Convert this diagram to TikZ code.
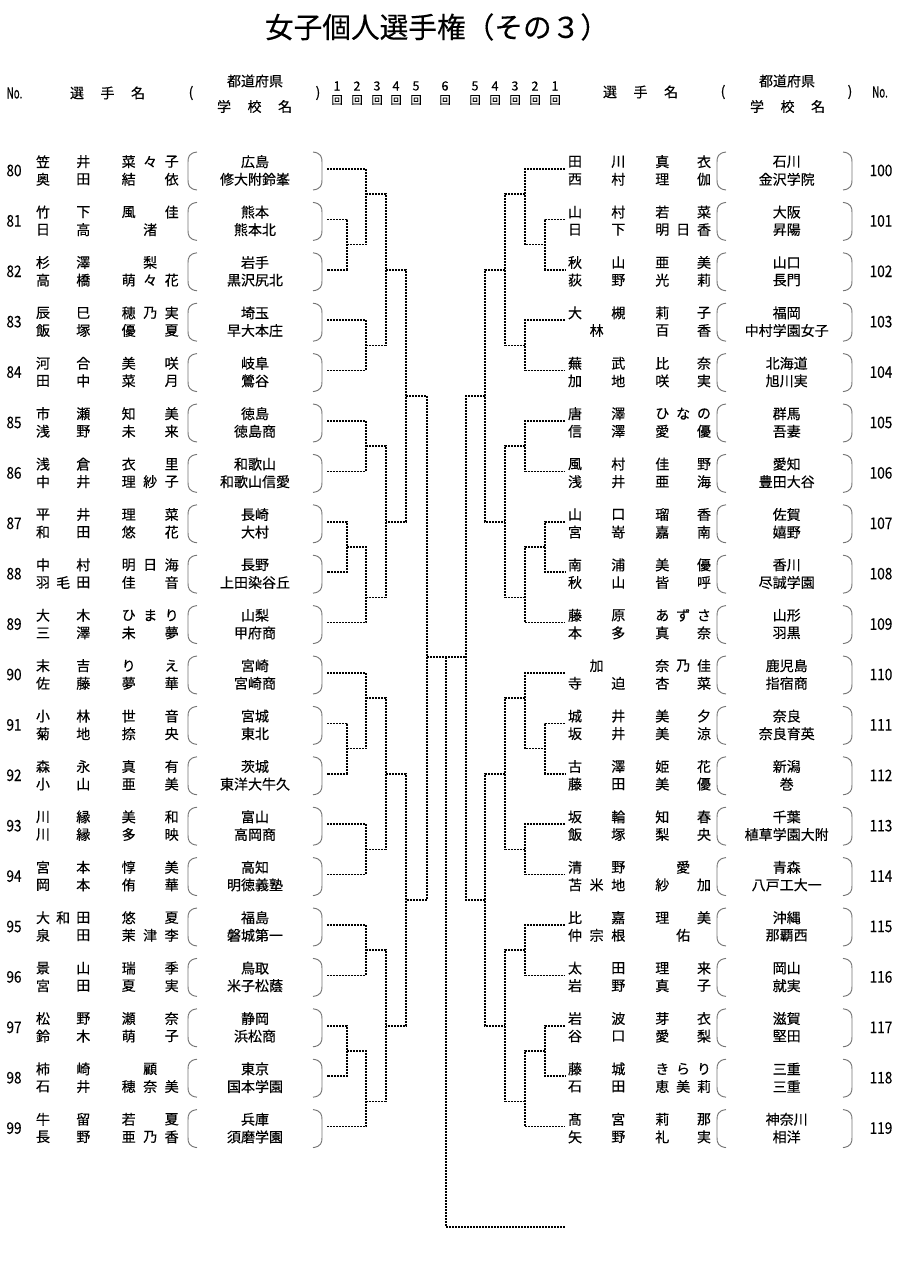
\documentclass[tikz,border=0pt]{standalone}
\usepackage{fontspec}
\setmainfont{Noto Sans CJK JP}[FakeBold=0.3]
\usetikzlibrary{positioning}

\newcounter{nchar}
% spread the characters of a list evenly from one x to another
\newcommand\spreadchars[5]{%
  \setcounter{nchar}{0}%
  \foreach \chr in {#5}{\stepcounter{nchar}}%
  \edef\nchars{\arabic{nchar}}%
  \ifnum\nchars=1
    \node[nm] (#1-0) at ({(#2+#3)/2},#4) {#5};%
  \else
    \foreach \chr [count=\i from 0] in {#5}
      \node[nm] (#1-\i) at ({#2+(#3-#2)*\i/(\nchars-1)},#4) {\chr};%
  \fi}

\newcommand\setleft{\def\xno{14}\def\xsa{43}\def\xsb{83.3}\def\xga{128.7}\def\xgb{171.7}%
  \def\xpl{188}\def\xsc{255}\def\xpr{322}}
\newcommand\setright{\def\xno{881}\def\xsa{575}\def\xsb{618.3}\def\xga{662.3}\def\xgb{704}%
  \def\xpl{717}\def\xsc{786.7}\def\xpr{852}}

% #1 row, #2 no., #3/#4 first player, #5/#6 second player, #7 prefecture, #8 school
\newcommand\playerrow[8]{%
  \pgfmathsetmacro\by{170.5+50.4*#1}%
  \pgfmathsetmacro\ya{\by-8.8}%
  \pgfmathsetmacro\yb{\by+8.8}%
  \pgfmathsetmacro\ytop{\by-18.5}%
  \pgfmathsetmacro\ybot{\by+19.5}%
  \node[num] (no#2) at (\xno,\by) {#2};
  \spreadchars{sa#2}{\xsa}{\xsb}{\ya}{#3}
  \spreadchars{ga#2}{\xga}{\xgb}{\ya}{#4}
  \spreadchars{sb#2}{\xsa}{\xsb}{\yb}{#5}
  \spreadchars{gb#2}{\xga}{\xgb}{\yb}{#6}
  \node[nm] (pref#2) at (\xsc,\ya) {#7};
  \node[nm] (sch#2) at (\xsc,\yb) {#8};
  \draw[paren] ({\xpl+9},\ytop) .. controls ({\xpl+1},{\ytop+1}) and (\xpl,{\ytop+5}) .. (\xpl,{\ytop+10})
    -- (\xpl,{\ybot-10}) .. controls (\xpl,{\ybot-5}) and ({\xpl+1},{\ybot-1}) .. ({\xpl+9},\ybot);
  \draw[paren] ({\xpr-9},\ytop) .. controls ({\xpr-1},{\ytop+1}) and (\xpr,{\ytop+5}) .. (\xpr,{\ytop+10})
    -- (\xpr,{\ybot-10}) .. controls (\xpr,{\ybot-5}) and ({\xpr-1},{\ybot-1}) .. ({\xpr-9},\ybot);
}

\begin{document}
\begin{tikzpicture}[x=0.75pt, y=-0.75pt,
  nm/.style={inner sep=0pt, font=\fontsize{10.5}{12}\selectfont},
  num/.style={inner sep=0pt, font=\fontsize{12}{13}\selectfont, xscale=0.85},
  hd/.style={inner sep=0pt, font=\fontsize{10.5}{12}\selectfont},
  rnd/.style={inner sep=0pt, font=\fontsize{9.5}{10}\selectfont},
  kai/.style={inner sep=0pt, font=\fontsize{8.5}{10}\selectfont},
  bk/.style={line width=1.3pt, dash pattern=on 1.5pt off 0.75pt},
  paren/.style={draw=black!55, line width=0.7pt}]
	\useasboundingbox (0,0) rectangle (910,1266);

	\node[inner sep=0pt, font=\fontsize{21.5}{24}\selectfont] (title) at (437,27) {女子個人選手権（その３）};

	% header, left
	\node[num, font=\fontsize{11.5}{12}\selectfont, xscale=0.75] (noL) at (14.5,93) {No.};
	\node[hd] (selL) at (77,93) {選};
	\node[hd, right=12pt of selL] (teL) {手};
	\node[hd, right=12pt of teL] (meiL) {名};
	\node[hd] (opL) at (191,93) {(};
	\node[hd] (prefL) at (255,81) {都道府県};
	\node[hd] (gakuL) at (224,106.5) {学};
	\node[hd, right=12pt of gakuL] (kouL) {校};
	\node[hd, right=12pt of kouL] (namL) {名};
	\node[hd] (clL) at (318,93) {)};
	% header, right
	\node[hd] (selR) at (610,92) {選};
	\node[hd, right=12pt of selR] (teR) {手};
	\node[hd, right=12pt of teR] (meiR) {名};
	\node[hd] (opR) at (723,92) {(};
	\node[hd] (prefR) at (787,81) {都道府県};
	\node[hd] (gakuR) at (757,106.5) {学};
	\node[hd, right=12pt of gakuR] (kouR) {校};
	\node[hd, right=12pt of kouR] (namR) {名};
	\node[hd] (clR) at (850,92) {)};
	\node[num, font=\fontsize{11.5}{12}\selectfont, xscale=0.75] (noR) at (880,92) {No.};
	% rounds
	\foreach \x/\r [count=\n] in {337/1, 357/2, 377/3, 396/4, 416/5, 445/6, 475/5, 495/4, 515/3, 535/2, 555/1} {
		\node[rnd] (rd\n) at (\x,86) {\r};
		\node[kai] (kai\n) at (\x,100) {回};
	}

	% players
	\setleft
	\playerrow{0}{80}{笠,井}{菜,々,子}{奥,田}{結,依}{広島}{修大附鈴峯}
	\playerrow{1}{81}{竹,下}{風,佳}{日,高}{渚}{熊本}{熊本北}
	\playerrow{2}{82}{杉,澤}{梨}{高,橋}{萌,々,花}{岩手}{黒沢尻北}
	\playerrow{3}{83}{辰,巳}{穂,乃,実}{飯,塚}{優,夏}{埼玉}{早大本庄}
	\playerrow{4}{84}{河,合}{美,咲}{田,中}{菜,月}{岐阜}{鶯谷}
	\playerrow{5}{85}{市,瀬}{知,美}{浅,野}{未,来}{徳島}{徳島商}
	\playerrow{6}{86}{浅,倉}{衣,里}{中,井}{理,紗,子}{和歌山}{和歌山信愛}
	\playerrow{7}{87}{平,井}{理,菜}{和,田}{悠,花}{長崎}{大村}
	\playerrow{8}{88}{中,村}{明,日,海}{羽,毛,田}{佳,音}{長野}{上田染谷丘}
	\playerrow{9}{89}{大,木}{ひ,ま,り}{三,澤}{未,夢}{山梨}{甲府商}
	\playerrow{10}{90}{末,吉}{り,え}{佐,藤}{夢,華}{宮崎}{宮崎商}
	\playerrow{11}{91}{小,林}{世,音}{菊,地}{捺,央}{宮城}{東北}
	\playerrow{12}{92}{森,永}{真,有}{小,山}{亜,美}{茨城}{東洋大牛久}
	\playerrow{13}{93}{川,縁}{美,和}{川,縁}{多,映}{富山}{高岡商}
	\playerrow{14}{94}{宮,本}{惇,美}{岡,本}{侑,華}{高知}{明徳義塾}
	\playerrow{15}{95}{大,和,田}{悠,夏}{泉,田}{茉,津,李}{福島}{磐城第一}
	\playerrow{16}{96}{景,山}{瑞,季}{宮,田}{夏,実}{鳥取}{米子松蔭}
	\playerrow{17}{97}{松,野}{瀬,奈}{鈴,木}{萌,子}{静岡}{浜松商}
	\playerrow{18}{98}{柿,崎}{顧}{石,井}{穂,奈,美}{東京}{国本学園}
	\playerrow{19}{99}{牛,留}{若,夏}{長,野}{亜,乃,香}{兵庫}{須磨学園}
	\setright
	\playerrow{0}{100}{田,川}{真,衣}{西,村}{理,伽}{石川}{金沢学院}
	\playerrow{1}{101}{山,村}{若,菜}{日,下}{明,日,香}{大阪}{昇陽}
	\playerrow{2}{102}{秋,山}{亜,美}{荻,野}{光,莉}{山口}{長門}
	\playerrow{3}{103}{大,槻}{莉,子}{林}{百,香}{福岡}{中村学園女子}
	\playerrow{4}{104}{蕪,武}{比,奈}{加,地}{咲,実}{北海道}{旭川実}
	\playerrow{5}{105}{唐,澤}{ひ,な,の}{信,澤}{愛,優}{群馬}{吾妻}
	\playerrow{6}{106}{風,村}{佳,野}{浅,井}{亜,海}{愛知}{豊田大谷}
	\playerrow{7}{107}{山,口}{瑠,香}{宮,嵜}{嘉,南}{佐賀}{嬉野}
	\playerrow{8}{108}{南,浦}{美,優}{秋,山}{皆,呼}{香川}{尽誠学園}
	\playerrow{9}{109}{藤,原}{あ,ず,さ}{本,多}{真,奈}{山形}{羽黒}
	\playerrow{10}{110}{加}{奈,乃,佳}{寺,迫}{杏,菜}{鹿児島}{指宿商}
	\playerrow{11}{111}{城,井}{美,夕}{坂,井}{美,涼}{奈良}{奈良育英}
	\playerrow{12}{112}{古,澤}{姫,花}{藤,田}{美,優}{新潟}{巻}
	\playerrow{13}{113}{坂,輪}{知,春}{飯,塚}{梨,央}{千葉}{植草学園大附}
	\playerrow{14}{114}{清,野}{愛}{苫,米,地}{紗,加}{青森}{八戸工大一}
	\playerrow{15}{115}{比,嘉}{理,美}{仲,宗,根}{佑}{沖縄}{那覇西}
	\playerrow{16}{116}{太,田}{理,来}{岩,野}{真,子}{岡山}{就実}
	\playerrow{17}{117}{岩,波}{芽,衣}{谷,口}{愛,梨}{滋賀}{堅田}
	\playerrow{18}{118}{藤,城}{き,ら,り}{石,田}{恵,美,莉}{三重}{三重}
	\playerrow{19}{119}{髙,宮}{莉,那}{矢,野}{礼,実}{神奈川}{相洋}

	% bracket ends and junctions
	\foreach \i in {0,...,19} {
		\pgfmathtruncatemacro\nl{80+\i}
		\pgfmathtruncatemacro\nr{100+\i}
		\coordinate (e\nl) at (327,{169+50.4*\i});
		\coordinate (e\nr) at (565,{169+50.4*\i});
	}
	\foreach \nm/\x/\k in {j8182/347/3, j8082/366/1, j8384/366/7, j8084/386/4,
		j8586/366/11, j8788/347/15, j8789/366/17, j8589/386/14, j8089/406/9,
		j9192/347/23, j9092/366/21, j9394/366/27, j9094/386/24,
		j9596/366/31, j9798/347/35, j9799/366/37, j9599/386/34, j9099/406/29,
		j101102/545/3, j100102/525/1, j103104/525/7, j100104/505/4,
		j105106/525/11, j107108/545/15, j107109/525/17, j105109/505/14, j100109/485/9,
		j111112/545/23, j110112/525/21, j113114/525/27, j110114/505/24,
		j115116/525/31, j117118/545/35, j117119/525/37, j115119/505/34, j110119/485/29}
		\coordinate (\nm) at (\x,{169+25.2*\k});
	\coordinate (j8099) at (427,657);
	\coordinate (j100119) at (466,657);
	\coordinate (fin) at (446,657);
	\coordinate (champ) at (446,1227);
	\coordinate (champEnd) at (565,1227);

	% matches
	\foreach \a/\j/\b in {e81/j8182/e82, e80/j8082/j8182, e83/j8384/e84, j8082/j8084/j8384,
		e85/j8586/e86, e87/j8788/e88, j8788/j8789/e89, j8586/j8589/j8789, j8084/j8089/j8589,
		e91/j9192/e92, e90/j9092/j9192, e93/j9394/e94, j9092/j9094/j9394,
		e95/j9596/e96, e97/j9798/e98, j9798/j9799/e99, j9596/j9599/j9799, j9094/j9099/j9599,
		j8089/j8099/j9099,
		e101/j101102/e102, e100/j100102/j101102, e103/j103104/e104, j100102/j100104/j103104,
		e105/j105106/e106, e107/j107108/e108, j107108/j107109/e109, j105106/j105109/j107109, j100104/j100109/j105109,
		e111/j111112/e112, e110/j110112/j111112, e113/j113114/e114, j110112/j110114/j113114,
		e115/j115116/e116, e117/j117118/e118, j117118/j117119/e119, j115116/j115119/j117119, j110114/j110119/j115119,
		j100109/j100119/j110119}
		\draw[bk] (\a) -| (\j) |- (\b);
	\draw[bk] (j8099) -- (j100119);
	\draw[bk] (fin) -- (champ) -- (champEnd);

\end{tikzpicture}
\end{document}
